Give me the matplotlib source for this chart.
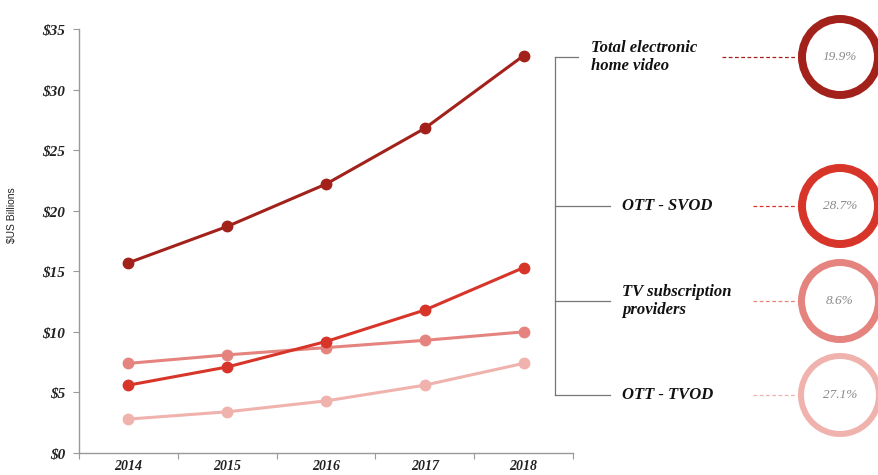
import matplotlib.pyplot as plt
from matplotlib.patches import Circle

# Revenue by segment, $US billions
years = ['2014', '2015', '2016', '2017', '2018']
total_home_video = [15.7, 18.7, 22.2, 26.8, 32.8]
ott_svod = [5.6, 7.1, 9.2, 11.8, 15.3]
tv_subscription = [7.4, 8.1, 8.7, 9.3, 10.0]
ott_tvod = [2.8, 3.4, 4.3, 5.6, 7.4]

segment_names = ['Total electronic\nhome video', 'OTT - SVOD', 'TV subscription\nproviders', 'OTT - TVOD']
cagr = ['19.9%', '28.7%', '8.6%', '27.1%']
colors = ['#a3211b', '#d8352a', '#e5847e', '#f0b2ad']

W, H = 879, 475
fig = plt.figure(figsize=(W / 100, H / 100), dpi=100)

ax = fig.add_axes([79 / W, 22 / H, (573 - 79) / W, (453 - 29) / H])
series = [total_home_video, ott_svod, tv_subscription, ott_tvod]
x = list(range(len(years)))
# draw light lines first so the darker ones sit on top
for vals, c in reversed(list(zip(series, colors))):
    ax.plot(x, vals, color=c, lw=2.2, marker='o', ms=7.5, mec=c, solid_capstyle='round')

ax.set_xlim(-0.5, 4.5)
ax.set_ylim(0, 35)
ax.set_yticks(range(0, 36, 5))
ax.set_yticklabels(['$' + str(v) for v in range(0, 36, 5)],
                   fontfamily='Liberation Serif', fontstyle='italic', fontweight='bold', fontsize=11, color='#222222')
ax.set_xticks([i - 0.5 for i in range(6)])
ax.set_xticklabels([])
ax.set_xticks(x, minor=True)
ax.set_xticklabels(years, minor=True, fontfamily='Liberation Serif', fontstyle='italic',
                   fontweight='bold', fontsize=10, color='#222222')
ax.tick_params(axis='x', which='minor', length=0, pad=5)
ax.tick_params(axis='x', which='major', length=4, color='#999999')
ax.tick_params(axis='y', length=4, color='#999999', pad=6)
for side in ['top', 'right']:
    ax.spines[side].set_visible(False)
for side in ['left', 'bottom']:
    ax.spines[side].set_color('#999999')
    ax.spines[side].set_linewidth(1)

fig.text(12 / W, 1 - 215 / H, '$US Billions', rotation=90, ha='center', va='center',
         fontfamily='Liberation Sans', fontsize=7.5, color='#222222')

# overlay in pixel coordinates for the bracket, labels and growth circles
ov = fig.add_axes([0, 0, 1, 1])
ov.set_xlim(0, W)
ov.set_ylim(H, 0)
ov.axis('off')

rows_y = [57, 206, 301, 395]
stub_end = [578, 610, 610, 610]
label_x = [591, 622, 622, 622]
dash_start = [722, 753, 753, 753]
ring_w = [8, 8, 7, 6]

ov.plot([555, 555], [rows_y[0], rows_y[-1]], color='#777777', lw=0.9)
for i in range(4):
    ov.plot([555, stub_end[i]], [rows_y[i], rows_y[i]], color='#777777', lw=0.9)
    ov.text(label_x[i], rows_y[i], segment_names[i], ha='left', va='center',
            fontfamily='Liberation Serif', fontstyle='italic', fontweight='bold',
            fontsize=12, color='#111111', linespacing=1.25)
    ov.plot([dash_start[i], 797], [rows_y[i], rows_y[i]], color=colors[i], lw=0.9, ls=(0, (3, 2)))
    r = 42 - ring_w[i] / 2
    ov.add_patch(Circle((840, rows_y[i]), r, facecolor='white', edgecolor=colors[i],
                        lw=ring_w[i] * 0.72, zorder=3))
    ov.text(840, rows_y[i], cagr[i], ha='center', va='center', fontfamily='Liberation Serif',
            fontstyle='italic', fontsize=9.5, color='#888888', zorder=4)

fig.savefig('out.png', dpi=100)
